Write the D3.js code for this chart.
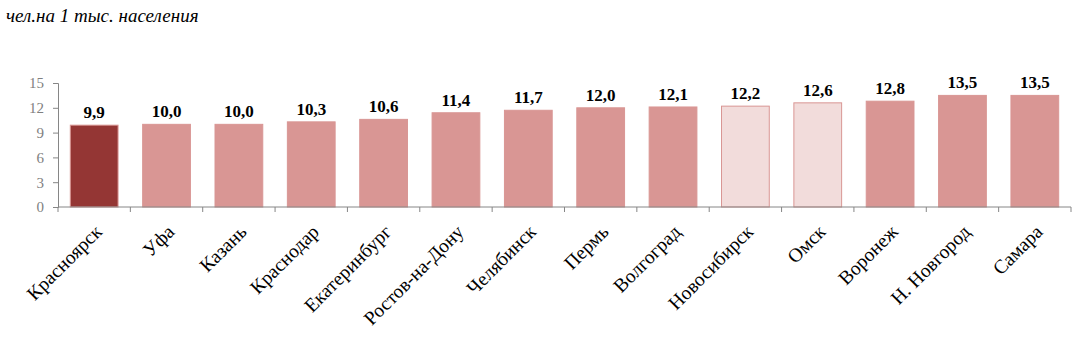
<!DOCTYPE html>
<html>
<head>
<meta charset="utf-8">
<script src="https://cdn.jsdelivr.net/npm/d3@7.9.0/dist/d3.min.js"></script>
<style>
  body { margin: 0; background: #fff; }
  svg { display: block; }
  text { font-family: "Liberation Serif", "Times New Roman", "DejaVu Serif", serif; }
</style>
</head>
<body>
<svg id="chart"></svg>
<script>
const cities = ["Красноярск", "Уфа", "Казань", "Краснодар", "Екатеринбург", "Ростов-на-Дону", "Челябинск",
    "Пермь", "Волгоград", "Новосибирск", "Омск", "Воронеж", "Н. Новгород", "Самара"];
const values = [9.9, 10.0, 10.0, 10.3, 10.6, 11.4, 11.7, 12.0, 12.1, 12.2, 12.6, 12.8, 13.5, 13.5];
const kinds = ["dark", "mid", "mid", "mid", "mid", "mid", "mid", "mid", "mid", "light", "light", "mid", "mid", "mid"];
const yTicks = [0, 3, 6, 9, 12, 15];
const unitLabel = "чел.на 1 тыс. населения";

const W = 1085, H = 360;
const margin = {top: 83, right: 14, bottom: 153, left: 58};
const width = W - margin.left - margin.right, height = H - margin.top - margin.bottom;

const fills = {dark: "#943634", mid: "#d99694", light: "#f2dcdb"};
const strokes = {dark: "#d99694", mid: "#d99694", light: "#d99694"};

const svg = d3.select("#chart").attr("width", W).attr("height", H);

svg.append("text")
    .attr("x", 6).attr("y", 22)
    .attr("font-style", "italic")
    .attr("font-size", 19)
    .text(unitLabel);

const g = svg.append("g").attr("transform", `translate(${margin.left},${margin.top})`);

const x = d3.scaleBand().domain(cities).range([0, width]).paddingInner(0.34).paddingOuter(0.17);
const y = d3.scaleLinear().domain([0, 15]).range([height, 0]);

// y axis
const yAxis = g.append("g")
    .call(d3.axisLeft(y).tickValues(yTicks).tickSize(5).tickPadding(9));
yAxis.attr("font-family", null);
yAxis.select(".domain").attr("stroke", "#868686");
yAxis.selectAll(".tick line").attr("stroke", "#868686");
yAxis.selectAll("text")
    .attr("font-size", 15)
    .attr("fill", "#7f7f7f");

// bars
g.selectAll(".bar")
    .data(cities)
    .enter()
    .append("rect")
    .attr("class", "bar")
    .attr("x", d => x(d))
    .attr("width", x.bandwidth())
    .attr("y", (d, i) => y(values[i]))
    .attr("height", (d, i) => height - y(values[i]))
    .attr("fill", (d, i) => fills[kinds[i]])
    .attr("stroke", (d, i) => strokes[kinds[i]])
    .attr("stroke-width", 1);

// x axis with ticks between categories
const step = x.step();
const xAxis = g.append("g").attr("transform", `translate(0,${height})`);
xAxis.append("line")
    .attr("x1", 0).attr("x2", width)
    .attr("stroke", "#868686");
xAxis.selectAll(".sep")
    .data(d3.range(cities.length + 1))
    .enter()
    .append("line")
    .attr("x1", i => i * step).attr("x2", i => i * step)
    .attr("y1", 0).attr("y2", 5)
    .attr("stroke", "#868686");

xAxis.selectAll(".cat")
    .data(cities)
    .enter()
    .append("text")
    .attr("transform", d => `translate(${x(d) + x.bandwidth() / 2 + 9},${26}) rotate(-45)`)
    .attr("text-anchor", "end")
    .attr("font-size", 19.5)
    .attr("fill", "#000")
    .text(d => d);

// value labels
g.selectAll(".val")
    .data(cities)
    .enter()
    .append("text")
    .attr("x", d => x(d) + x.bandwidth() / 2)
    .attr("y", (d, i) => y(values[i]) - 7)
    .attr("text-anchor", "middle")
    .attr("font-weight", "bold")
    .attr("font-size", 17)
    .text((d, i) => d3.format(".1f")(values[i]).replace(".", ","));
</script>
</body>
</html>
